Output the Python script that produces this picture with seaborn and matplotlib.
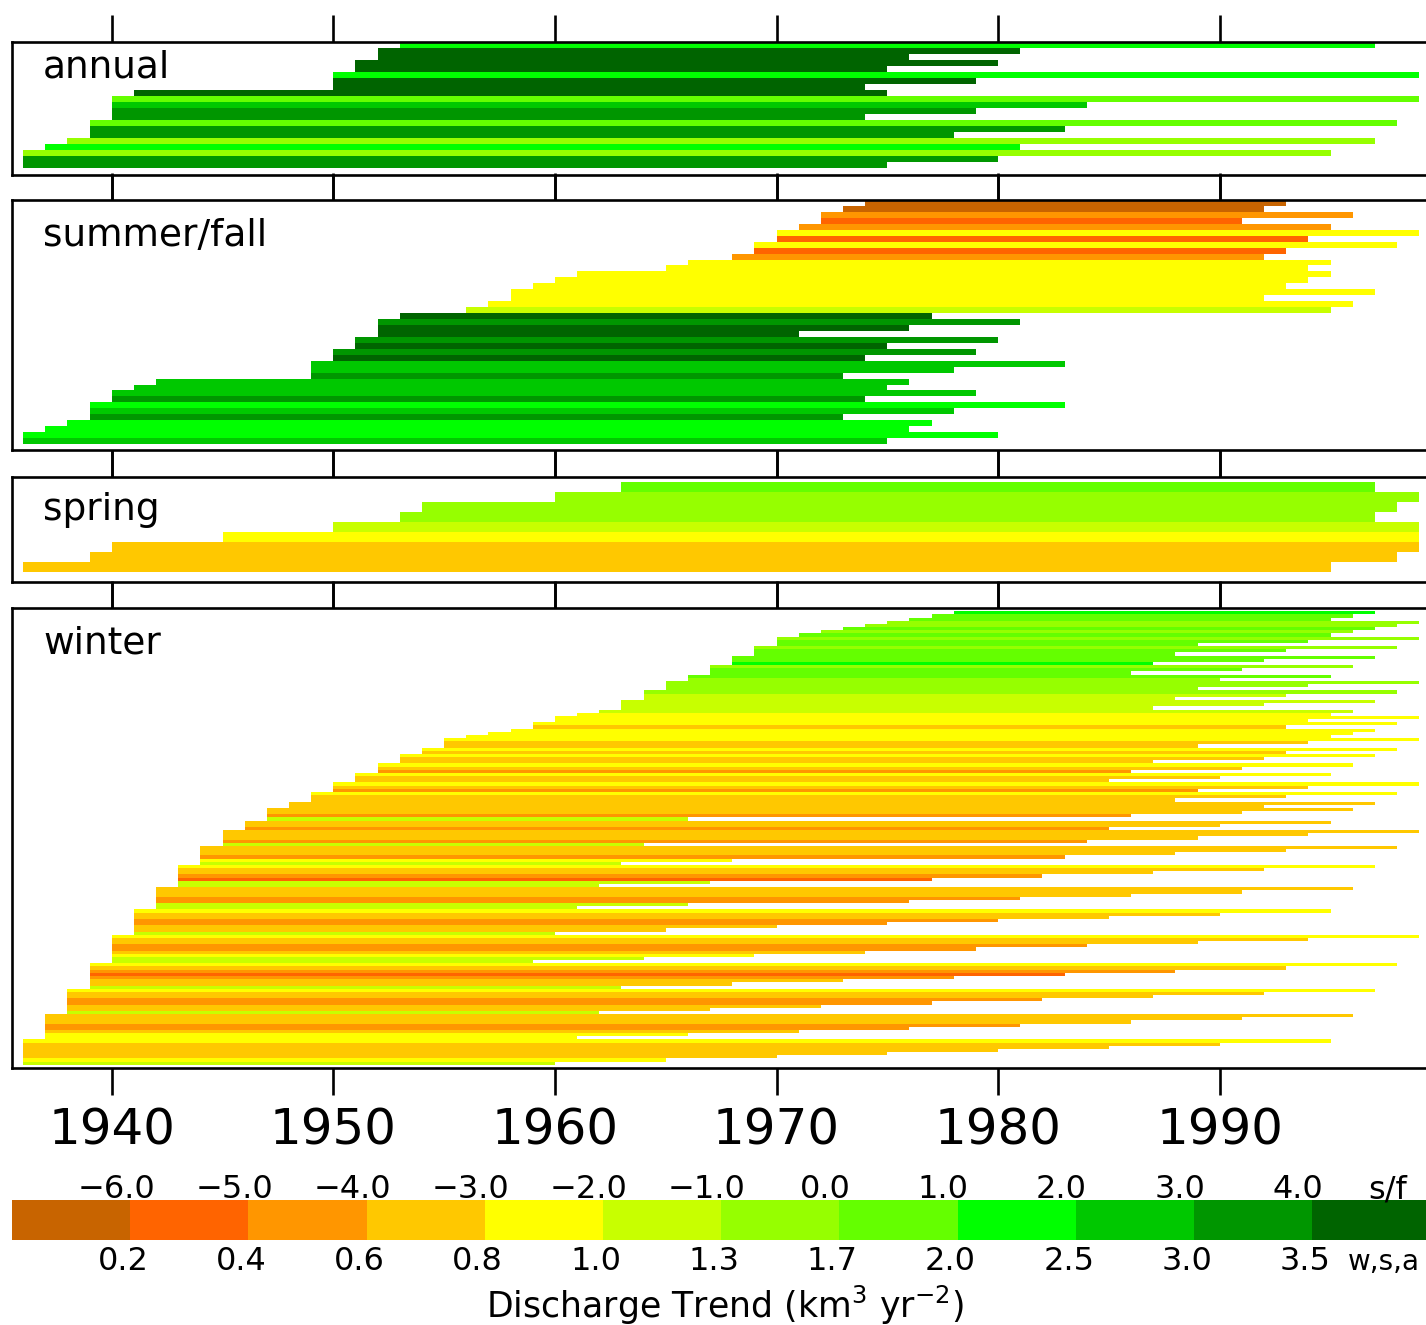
import numpy as np
import pandas as pd
import matplotlib
matplotlib.use("Agg")
import matplotlib.pyplot as plt
import seaborn as sns

# ---------------- data ----------------
class_colors = ["#c86400", "#ff6400", "#ff9600", "#ffc800", "#ffff00", "#c8ff00",
                "#96ff00", "#64ff00", "#00ff00", "#00c800", "#009600", "#006400"]
sf_labels = ["\u22126.0", "\u22125.0", "\u22124.0", "\u22123.0", "\u22122.0", "\u22121.0",
             "0.0", "1.0", "2.0", "3.0", "4.0"]
wsa_labels = ["0.2", "0.4", "0.6", "0.8", "1.0", "1.3", "1.7", "2.0", "2.5", "3.0", "3.5"]
year_ticks = [1940, 1950, 1960, 1970, 1980, 1990]
panel_names = ["annual", "summer/fall", "spring", "winter"]

# rows listed bottom -> top: period start year, end year, trend class
annual_start = [1936, 1936, 1936, 1937, 1938, 1939, 1939, 1939, 1940, 1940, 1940,
                1940, 1941, 1950, 1950, 1950, 1951, 1951, 1952, 1952, 1953]
annual_end = [1975, 1980, 1995, 1981, 1997, 1978, 1983, 1998, 1974, 1979, 1984,
              1999, 1975, 1974, 1979, 1999, 1975, 1980, 1976, 1981, 1997]
annual_cls = [10, 10, 6, 8, 6, 10, 10, 7, 10, 10, 9, 7, 11, 11, 11, 8, 11, 11, 11, 11, 8]

sf_start = [1936, 1936, 1937, 1938, 1939, 1939, 1939, 1940, 1940, 1941, 1942, 1949, 1949,
            1949, 1950, 1950, 1951, 1951, 1952, 1952, 1952, 1953,
            1956, 1957, 1958, 1958, 1959, 1960, 1961, 1965, 1966,
            1968, 1969, 1969, 1970, 1970, 1971, 1972, 1972, 1973, 1974]
sf_end = [1975, 1980, 1976, 1977, 1973, 1978, 1983, 1974, 1979, 1975, 1976, 1973, 1978,
          1983, 1974, 1979, 1975, 1980, 1971, 1976, 1981, 1977,
          1995, 1996, 1992, 1997, 1993, 1994, 1995, 1994, 1995,
          1992, 1993, 1998, 1994, 1999, 1995, 1991, 1996, 1992, 1993]
sf_cls = [9, 8, 8, 8, 10, 9, 8, 10, 9, 9, 9, 10, 9, 9, 11, 10, 11, 10, 11, 11, 10, 11,
          5, 4, 4, 4, 4, 4, 4, 4, 4,
          2, 1, 4, 1, 4, 2, 1, 2, 0, 0]

spring_start = [1936, 1939, 1940, 1945, 1950, 1953, 1954, 1960, 1963]
spring_end = [1995, 1998, 1999, 1999, 1999, 1997, 1998, 1999, 1997]
spring_cls = [3, 3, 3, 4, 5, 6, 6, 6, 7]

# winter: one group per start year, bars inside a group listed bottom -> top
winter_starts = [1936, 1937, 1938, 1939, 1940, 1941, 1942, 1943, 1944, 1945, 1946, 1947,
                 1948, 1949, 1950, 1951, 1952, 1953, 1954, 1955, 1956, 1957, 1958, 1959,
                 1960, 1961, 1962, 1963, 1964, 1965, 1966, 1967, 1968, 1969, 1970, 1971,
                 1972, 1973, 1974, 1975, 1976, 1977, 1978]
winter_ends = [
    [1960, 1965, 1970, 1975, 1980, 1985, 1990, 1995],
    [1961, 1966, 1971, 1976, 1981, 1986, 1991, 1996],
    [1962, 1967, 1972, 1977, 1982, 1987, 1992, 1997],
    [1963, 1968, 1973, 1978, 1983, 1988, 1993, 1998],
    [1959, 1964, 1969, 1974, 1979, 1984, 1989, 1994, 1999],
    [1960, 1965, 1970, 1975, 1980, 1985, 1990, 1995],
    [1961, 1966, 1976, 1981, 1986, 1991, 1996],
    [1962, 1967, 1977, 1982, 1987, 1992, 1997],
    [1963, 1968, 1983, 1988, 1993, 1998],
    [1964, 1984, 1989, 1994, 1999],
    [1985, 1990, 1995],
    [1966, 1986, 1991, 1996],
    [1992, 1997],
    [1988, 1993, 1998],
    [1989, 1994, 1999],
    [1985, 1990, 1995],
    [1986, 1991, 1996],
    [1987, 1992, 1997],
    [1993, 1998],
    [1989, 1994, 1999],
    [1995],
    [1996],
    [1997],
    [1993, 1998],
    [1994, 1999],
    [1995],
    [1996],
    [1987, 1992, 1997],
    [1988, 1993, 1998],
    [1989, 1994, 1999],
    [1990, 1995],
    [1986, 1991, 1996],
    [1987, 1992, 1997],
    [1988, 1993, 1998],
    [1989, 1994, 1999],
    [1995],
    [1996],
    [1997],
    [1998],
    [1999],
    [1995],
    [1996],
    [1997],
]
winter_cls = [
    [5, 4, 3, 3, 3, 3, 3, 4],
    [4, 4, 3, 2, 2, 3, 3, 3],
    [5, 3, 3, 2, 2, 3, 3, 4],
    [5, 3, 3, 2, 1, 2, 3, 4],
    [5, 5, 4, 3, 2, 2, 3, 3, 4],
    [5, 3, 3, 2, 2, 3, 3, 4],
    [5, 5, 2, 2, 3, 3, 3],
    [5, 5, 1, 2, 3, 3, 4],
    [5, 4, 2, 3, 3, 3],
    [5, 2, 3, 3, 3],
    [2, 3, 3],
    [5, 2, 3, 3],
    [3, 3],
    [3, 3, 4],
    [2, 3, 4],
    [3, 3, 4],
    [2, 3, 4],
    [3, 3, 4],
    [3, 4],
    [3, 3, 4],
    [4],
    [4],
    [4],
    [3, 4],
    [4, 4],
    [4],
    [5],
    [5, 5, 5],
    [5, 5, 6],
    [6, 6, 6],
    [6, 7],
    [7, 7, 6],
    [8, 7, 7],
    [7, 7, 6],
    [7, 7, 6],
    [7],
    [6],
    [7],
    [6],
    [6],
    [7],
    [7],
    [8],
]

# ---------------- table ----------------
records = []
for name, st, en, cl in [("annual", annual_start, annual_end, annual_cls),
                         ("summer/fall", sf_start, sf_end, sf_cls),
                         ("spring", spring_start, spring_end, spring_cls)]:
    for i, (s, e, c) in enumerate(zip(st, en, cl)):
        records.append(dict(panel=name, row=i, start=s, end=e, cls=c))
r = 0
for s, ends, cls in zip(winter_starts, winter_ends, winter_cls):
    for e, c in zip(ends, cls):
        records.append(dict(panel="winter", row=r, start=s, end=e, cls=c))
        r += 1
df = pd.DataFrame(records)

# ---------------- style ----------------
sns.set_theme(style="white")
plt.rcParams["font.family"] = ["DejaVu Sans"]
plt.rcParams["mathtext.fontset"] = "dejavusans"
plt.rcParams["text.color"] = "black"
plt.rcParams["xtick.color"] = "black"
plt.rcParams["xtick.labelcolor"] = "black"
palette = sns.color_palette(class_colors)

W, H = 1426, 1325
fig = plt.figure(figsize=(W / 100, H / 100), dpi=100)
fig.patch.set_facecolor("white")

X0 = 12.0
PXY = 22.16
XMIN, XMAX = 1935.5, 2000.5
AXW = (XMAX - XMIN) * PXY

layout = {  # top px, bottom px, ylim, label baseline (axes frac)
    "annual": (42, 175, (-1.6, 20.5), 0.735),
    "summer/fall": (200, 450, (-1.5, 40.5), 0.815),
    "spring": (477, 582, (-1.5, 9.0), 0.59),
    "winter": (608, 1068, (-1.5, 143.5), 0.902),
}

for name in panel_names:
    top, bot, ylim, lab_y = layout[name]
    ax = fig.add_axes([X0 / W, 1 - bot / H, AXW / W, (bot - top) / H])
    d = df[df.panel == name]
    ax.barh(d["row"], d["end"] - d["start"], left=d["start"], height=1.0,
            color=[palette[c] for c in d["cls"]], linewidth=0, antialiased=False)
    ax.set_xlim(XMIN, XMAX)
    ax.set_ylim(*ylim)
    ax.set_yticks([])
    ax.set_xticks(year_ticks)
    ax.tick_params(axis="x", which="major", direction="out", length=19.5, width=1.9,
                   color="black", labelcolor="black", top=True, bottom=True,
                   labeltop=False, labelbottom=(name == "winter"), labelsize=36, pad=8)
    for sp in ax.spines.values():
        sp.set_visible(True)
        sp.set_color("black")
        sp.set_linewidth(1.9)
    ax.set_facecolor("white")
    ax.text(0.0215, lab_y, name, transform=ax.transAxes, fontsize=27,
            ha="left", va="baseline", color="black")

# ---------------- colour bar ----------------
BOX = 118.2
cax = fig.add_axes([X0 / W, 1 - 1240 / H, 12 * BOX / W, 40 / H])
cax.bar(np.arange(12) + 0.5, [1] * 12, width=1.0, color=palette, linewidth=0)
cax.set_xlim(0, 12)
cax.set_ylim(0, 1)
cax.axis("off")
for i, lab in enumerate(sf_labels):
    cax.text(i + 1 - 0.12, 1.05, lab, fontsize=23, ha="center", va="baseline", color="black")
for i, lab in enumerate(wsa_labels):
    cax.text(i + 1 - 0.06, -0.75, lab, fontsize=23, ha="center", va="baseline", color="black")
cax.text(11.47, 1.05, "s/f", fontsize=23, ha="left", va="baseline", color="black")
cax.text(11.30, -0.75, "w,s,a", fontsize=20, ha="left", va="baseline", color="black")
cax.text(6.03, -1.95, r"Discharge Trend (km$^3$ yr$^{-2}$)", fontsize=25,
         ha="center", va="baseline", color="black")

fig.savefig("out.png", dpi=100, facecolor="white")
